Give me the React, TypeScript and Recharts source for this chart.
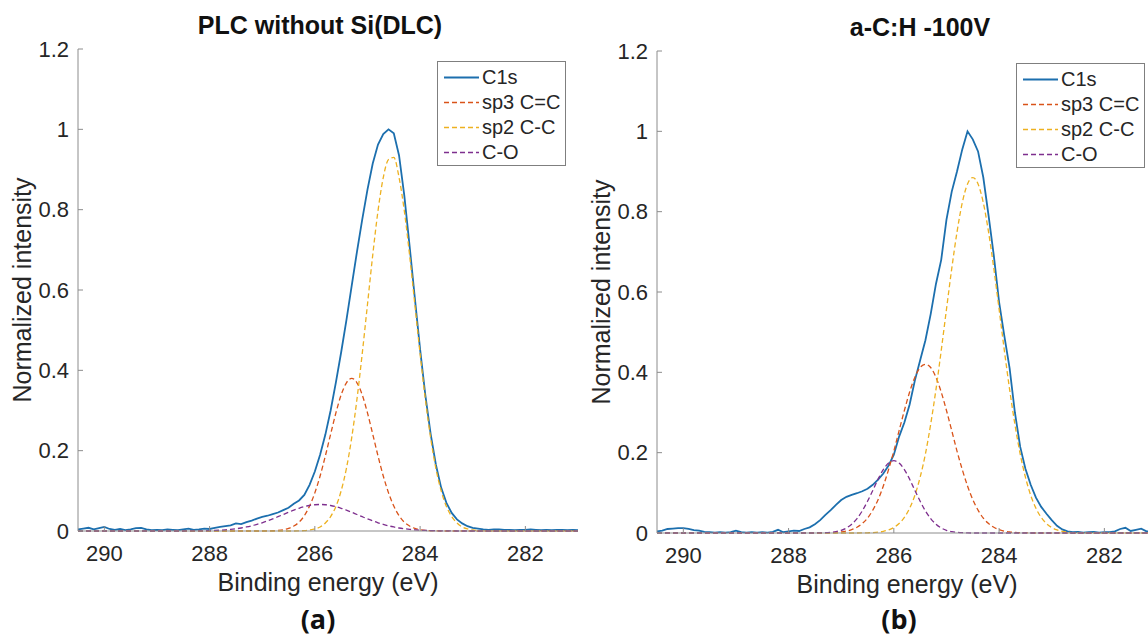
import React from 'react';
import { LineChart, Line, XAxis, YAxis, Legend } from 'recharts';

// binding energy grid (eV), shared by both panels
const energy = [
  290.5, 290.4, 290.3, 290.2, 290.1, 290.0, 289.9, 289.8, 289.7, 289.6,
  289.5, 289.4, 289.3, 289.2, 289.1, 289.0, 288.9, 288.8, 288.7, 288.6,
  288.5, 288.4, 288.3, 288.2, 288.1, 288.0, 287.9, 287.8, 287.7, 287.6,
  287.5, 287.4, 287.3, 287.2, 287.1, 287.0, 286.9, 286.8, 286.7, 286.6,
  286.5, 286.4, 286.3, 286.2, 286.1, 286.0, 285.9, 285.8, 285.7, 285.6,
  285.5, 285.4, 285.3, 285.2, 285.1, 285.0, 284.9, 284.8, 284.7, 284.6,
  284.5, 284.4, 284.3, 284.2, 284.1, 284.0, 283.9, 283.8, 283.7, 283.6,
  283.5, 283.4, 283.3, 283.2, 283.1, 283.0, 282.9, 282.8, 282.7, 282.6,
  282.5, 282.4, 282.3, 282.2, 282.1, 282.0, 281.9, 281.8, 281.7, 281.6,
  281.5, 281.4, 281.3, 281.2, 281.1, 281.0,
];

// (a) PLC without Si(DLC)
const c1sA = [
  0.004, 0.006, 0.008, 0.004, 0.007, 0.010, 0.005, 0.003, 0.005, 0.002,
  0.004, 0.007, 0.008, 0.004, 0.002, 0.003, 0.002, 0.004, 0.003, 0.002,
  0.004, 0.006, 0.003, 0.004, 0.006, 0.005, 0.008, 0.010, 0.012, 0.014,
  0.019, 0.017, 0.022, 0.026, 0.031, 0.035, 0.038, 0.042, 0.046, 0.052,
  0.058, 0.068, 0.076, 0.090, 0.115, 0.148, 0.190, 0.240, 0.300, 0.370,
  0.445, 0.525, 0.610, 0.695, 0.775, 0.850, 0.915, 0.962, 0.988, 1.000,
  0.990, 0.935, 0.835, 0.710, 0.580, 0.452, 0.338, 0.242, 0.165, 0.108,
  0.070, 0.045, 0.029, 0.019, 0.012, 0.008, 0.006, 0.004, 0.003, 0.004,
  0.004, 0.003, 0.003, 0.002, 0.003, 0.003, 0.004, 0.003, 0.002, 0.003,
  0.002, 0.003, 0.003, 0.002, 0.003, 0.002,
];
const sp3A = [
  0, 0, 0, 0, 0, 0, 0, 0, 0, 0,
  0, 0, 0, 0, 0, 0, 0, 0, 0, 0,
  0, 0, 0, 0, 0, 0, 0, 0, 0, 0,
  0, 0, 0, 0, 0, 0, 0.0002, 0.0006, 0.0015, 0.0032,
  0.0064, 0.0123, 0.022, 0.038, 0.062, 0.095, 0.137, 0.187, 0.241, 0.294,
  0.339, 0.369, 0.380, 0.369, 0.339, 0.294, 0.241, 0.187, 0.137, 0.095,
  0.062, 0.038, 0.022, 0.0123, 0.0064, 0.0032, 0.0015, 0.0006, 0.0002, 0,
  0, 0, 0, 0, 0, 0, 0, 0, 0, 0,
  0, 0, 0, 0, 0, 0, 0, 0, 0, 0,
  0, 0, 0, 0, 0, 0,
];
const sp2A = [
  0, 0, 0, 0, 0, 0, 0, 0, 0, 0,
  0, 0, 0, 0, 0, 0, 0, 0, 0, 0,
  0, 0, 0, 0, 0, 0, 0, 0, 0, 0,
  0, 0, 0, 0, 0, 0, 0, 0, 0, 0,
  0, 0, 0.0004, 0.001, 0.0025, 0.005, 0.010, 0.020, 0.036, 0.061,
  0.100, 0.156, 0.232, 0.328, 0.441, 0.564, 0.687, 0.797, 0.880, 0.925,
  0.930, 0.880, 0.797, 0.687, 0.564, 0.441, 0.328, 0.232, 0.156, 0.100,
  0.061, 0.036, 0.020, 0.010, 0.005, 0.0025, 0.001, 0.0004, 0, 0,
  0, 0, 0, 0, 0, 0, 0, 0, 0, 0,
  0, 0, 0, 0, 0, 0,
];
const coA = [
  0, 0, 0, 0, 0, 0, 0, 0, 0, 0,
  0, 0, 0, 0, 0, 0, 0, 0, 0, 0,
  0, 0.0002, 0.0003, 0.0004, 0.0006, 0.0009, 0.0014, 0.0020, 0.0029, 0.0041,
  0.0056, 0.0075, 0.0100, 0.0129, 0.0165, 0.0205, 0.0252, 0.0302, 0.0356, 0.0411,
  0.0467, 0.0519, 0.0566, 0.0605, 0.0635, 0.0654, 0.066, 0.0654, 0.0635, 0.0605,
  0.0566, 0.0519, 0.0467, 0.0411, 0.0356, 0.0302, 0.0252, 0.0205, 0.0165, 0.0129,
  0.0100, 0.0075, 0.0056, 0.0041, 0.0029, 0.0020, 0.0014, 0.0009, 0.0006, 0.0004,
  0.0003, 0.0002, 0, 0, 0, 0, 0, 0, 0, 0,
  0, 0, 0, 0, 0, 0, 0, 0, 0, 0,
  0, 0, 0, 0, 0, 0,
];

// (b) a-C:H -100V
const c1sB = [
  0.004, 0.006, 0.010, 0.011, 0.012, 0.012, 0.010, 0.007, 0.006, 0.003,
  0.002, 0.001, 0.002, 0.001, 0.002, 0.006, 0.002, 0.001, 0.002, 0.001,
  0.002, 0.001, 0.003, 0.008, 0.002, 0.004, 0.006, 0.005, 0.010, 0.014,
  0.022, 0.032, 0.045, 0.057, 0.070, 0.082, 0.090, 0.095, 0.099, 0.104,
  0.110, 0.120, 0.133, 0.148, 0.168, 0.195, 0.240, 0.275, 0.320, 0.380,
  0.430, 0.480, 0.545, 0.620, 0.680, 0.780, 0.850, 0.900, 0.955, 1.000,
  0.980, 0.950, 0.885, 0.790, 0.690, 0.575, 0.490, 0.410, 0.300, 0.215,
  0.160, 0.120, 0.088, 0.065, 0.048, 0.032, 0.018, 0.009, 0.004, 0.002,
  0.003, 0.001, 0.002, 0.003, 0.001, 0.002, 0.002, 0.004, 0.010, 0.013,
  0.005, 0.008, 0.011, 0.004, 0.003, 0.005,
];
const sp3B = [
  0, 0, 0, 0, 0, 0, 0, 0, 0, 0,
  0, 0, 0, 0, 0, 0, 0, 0, 0, 0,
  0, 0, 0, 0, 0, 0, 0, 0, 0, 0,
  0, 0, 0.0003, 0.0006, 0.0013, 0.0025, 0.0047, 0.0083, 0.0143, 0.0236,
  0.037, 0.057, 0.083, 0.117, 0.158, 0.204, 0.255, 0.305, 0.351, 0.388,
  0.412, 0.420, 0.412, 0.388, 0.351, 0.305, 0.255, 0.204, 0.158, 0.117,
  0.083, 0.057, 0.037, 0.0236, 0.0143, 0.0083, 0.0047, 0.0025, 0.0013, 0.0006,
  0.0003, 0, 0, 0, 0, 0, 0, 0, 0, 0,
  0, 0, 0, 0, 0, 0, 0, 0, 0, 0,
  0, 0, 0, 0, 0, 0,
];
const sp2B = [
  0, 0, 0, 0, 0, 0, 0, 0, 0, 0,
  0, 0, 0, 0, 0, 0, 0, 0, 0, 0,
  0, 0, 0, 0, 0, 0, 0, 0, 0, 0,
  0, 0, 0, 0, 0, 0, 0, 0, 0, 0.0002,
  0.0005, 0.0011, 0.0022, 0.0042, 0.0077, 0.0137, 0.0235, 0.0387, 0.0615, 0.094,
  0.139, 0.197, 0.271, 0.357, 0.454, 0.557, 0.658, 0.749, 0.822, 0.869,
  0.885, 0.869, 0.822, 0.749, 0.658, 0.557, 0.454, 0.357, 0.271, 0.197,
  0.139, 0.094, 0.0615, 0.0387, 0.0235, 0.0137, 0.0077, 0.0042, 0.0022, 0.0011,
  0.0005, 0.0002, 0, 0, 0, 0, 0, 0, 0, 0,
  0, 0, 0, 0, 0, 0,
];
const coB = [
  0, 0, 0, 0, 0, 0, 0, 0, 0, 0,
  0, 0, 0, 0, 0, 0, 0, 0, 0, 0,
  0, 0, 0, 0, 0, 0, 0, 0, 0, 0,
  0, 0.0003, 0.0007, 0.0016, 0.0034, 0.0067, 0.0125, 0.022, 0.036, 0.055,
  0.079, 0.106, 0.134, 0.158, 0.174, 0.180, 0.174, 0.158, 0.134, 0.106,
  0.079, 0.055, 0.036, 0.022, 0.0125, 0.0067, 0.0034, 0.0016, 0.0007, 0.0003,
  0, 0, 0, 0, 0, 0, 0, 0, 0, 0,
  0, 0, 0, 0, 0, 0, 0, 0, 0, 0,
  0, 0, 0, 0, 0, 0, 0, 0, 0, 0,
  0, 0, 0, 0, 0, 0,
];

const seriesKeys = ['c1s', 'sp3', 'sp2', 'co'];
const seriesNames = ['C1s', 'sp3 C=C', 'sp2 C-C', 'C-O'];
const seriesColors = ['#1c6fae', '#d95319', '#edb120', '#7e2f8e'];
const xTicks = [282, 284, 286, 288, 290];
const yTicks = [0, 0.2, 0.4, 0.6, 0.8, 1, 1.2];
const panelTitles = ['PLC without Si(DLC)', 'a-C:H -100V'];
const panelTags = ['(a)', '(b)'];

const FONT = '"Liberation Sans", Arial, Helvetica, sans-serif';
const AXIS = '#8c8c8c';
const INK = '#262626';

const buildRows = (c1s: number[], sp3: number[], sp2: number[], co: number[]) =>
  energy.map((e, i) => ({ e, c1s: c1s[i], sp3: sp3[i], sp2: sp2[i], co: co[i] }));

const rowsA = buildRows(c1sA, sp3A, sp2A, coA);
const rowsB = buildRows(c1sB, sp3B, sp2B, coB);

const LegendBox = () => (
  <div
    style={{
      width: 129,
      height: 105,
      boxSizing: 'border-box',
      border: '1px solid #7f7f7f',
      background: '#fff',
      paddingTop: 3,
      fontFamily: FONT,
      fontSize: 20,
      color: INK,
    }}
  >
    {seriesNames.map((name, i) => (
      <div key={name} style={{ display: 'flex', alignItems: 'center', height: 25 }}>
        <svg width={44} height={25} style={{ flex: 'none' }}>
          <line
            x1={6}
            x2={41}
            y1={12.5}
            y2={12.5}
            stroke={seriesColors[i]}
            strokeWidth={i === 0 ? 1.8 : 1.3}
            strokeDasharray={i === 0 ? undefined : '5 3'}
          />
        </svg>
        <span style={{ whiteSpace: 'nowrap' }}>{name}</span>
      </div>
    ))}
  </div>
);

const Panel = ({ rows }: { rows: any[] }) => (
  <LineChart width={600} height={600} data={rows} margin={{ top: 49, right: 22, left: 0, bottom: 0 }}>
    <XAxis
      dataKey="e"
      type="number"
      domain={[281, 290.5]}
      reversed
      allowDataOverflow
      ticks={xTicks}
      height={69}
      stroke={AXIS}
      tickSize={-5}
      tickMargin={19}
      tick={{ fill: INK, fontSize: 22, fontFamily: FONT }}
      label={{ value: 'Binding energy (eV)', position: 'insideBottom', offset: 9, fill: INK, fontSize: 25, fontFamily: FONT }}
    />
    <XAxis
      xAxisId="top"
      orientation="top"
      type="number"
      domain={[281, 290.5]}
      reversed
      allowDataOverflow
      ticks={xTicks}
      height={0}
      stroke={AXIS}
      tickSize={-5}
      tick={false}
    />
    <YAxis
      type="number"
      domain={[0, 1.2]}
      ticks={yTicks}
      width={78}
      stroke={AXIS}
      tickSize={-5}
      tickMargin={14}
      tick={{ fill: INK, fontSize: 22, fontFamily: FONT }}
      label={{
        value: 'Normalized intensity',
        angle: -90,
        position: 'insideLeft',
        offset: 22,
        fill: INK,
        fontSize: 25,
        fontFamily: FONT,
        style: { textAnchor: 'middle' },
      }}
    />
    <YAxis
      yAxisId="r"
      orientation="right"
      type="number"
      domain={[0, 1.2]}
      ticks={yTicks}
      width={0}
      stroke={AXIS}
      tickSize={-5}
      tick={false}
    />
    <Legend
      layout="vertical"
      align="center"
      verticalAlign="middle"
      wrapperStyle={{ left: 437, top: 61, width: 129 }}
      content={() => <LegendBox />}
    />
    {seriesKeys.map((key, i) => (
      <Line
        key={key}
        dataKey={key}
        name={seriesNames[i]}
        type={i === 0 ? 'linear' : 'monotone'}
        stroke={seriesColors[i]}
        strokeWidth={i === 0 ? 1.8 : 1.3}
        strokeDasharray={i === 0 ? undefined : '5 3'}
        dot={false}
        activeDot={false}
        isAnimationActive={false}
      />
    ))}
  </LineChart>
);

const titleStyle: React.CSSProperties = {
  position: 'absolute',
  width: 400,
  textAlign: 'center',
  fontFamily: FONT,
  fontWeight: 'bold',
  fontSize: 25,
  lineHeight: '25px',
  color: '#111',
};

const tagStyle: React.CSSProperties = {
  position: 'absolute',
  width: 100,
  textAlign: 'center',
  fontFamily: '"Open Sans", "Noto Sans", sans-serif',
  fontWeight: 'bold',
  fontSize: 27,
  lineHeight: '30px',
  color: '#111',
};

export default function App() {
  return (
    <div
      style={{
        position: 'fixed',
        left: 0,
        top: 0,
        width: 1148,
        height: 638,
        overflow: 'hidden',
        background: '#fff',
      }}
    >
      <div style={{ position: 'absolute', left: 0, top: 0 }}>
        <Panel rows={rowsA} />
      </div>
      <div style={{ position: 'absolute', left: 579, top: 2 }}>
        <Panel rows={rowsB} />
      </div>
      <div style={{ ...titleStyle, left: 320 - 200, top: 13 }}>{panelTitles[0]}</div>
      <div style={{ ...titleStyle, left: 920 - 200, top: 15 }}>{panelTitles[1]}</div>
      <div style={{ ...tagStyle, left: 318 - 50, top: 604 }}>{panelTags[0]}</div>
      <div style={{ ...tagStyle, left: 899 - 50, top: 604 }}>{panelTags[1]}</div>
    </div>
  );
}
